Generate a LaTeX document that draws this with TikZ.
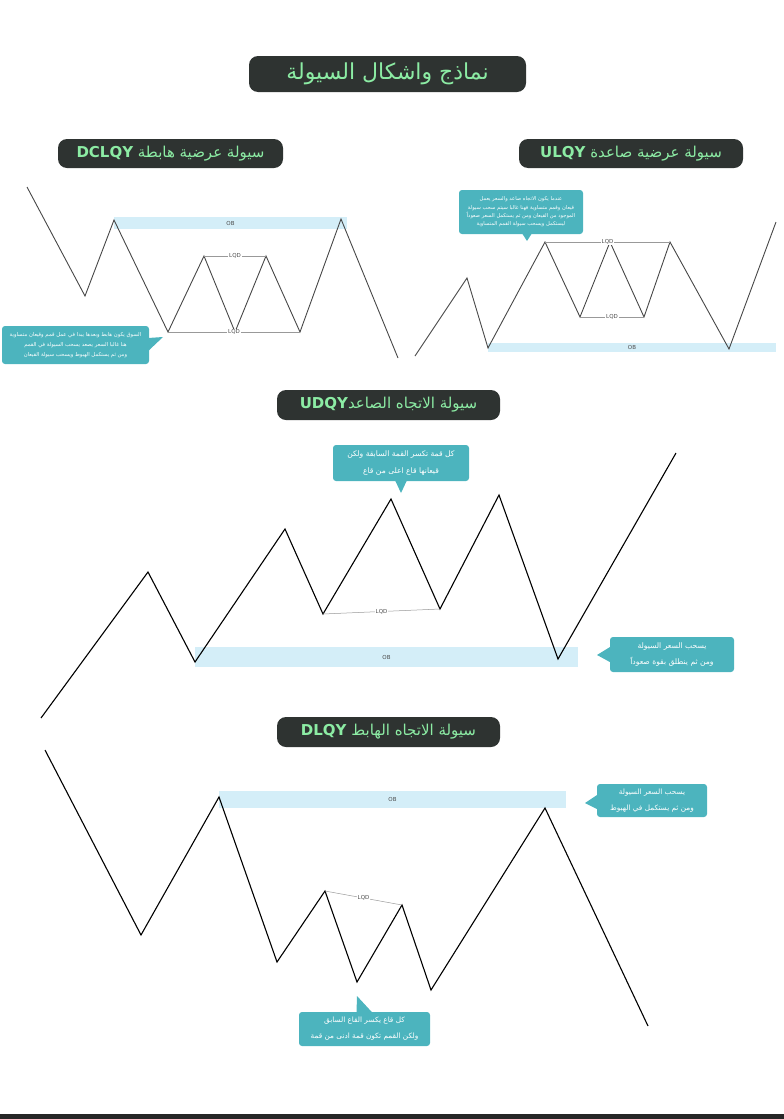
\documentclass[tikz,border=0pt]{standalone}
\usepackage{fontspec}
\setmainfont{DejaVu Sans}
\newfontfamily\arabicfont[Script=Arabic]{DejaVu Sans}
\TeXXeTstate=1
\usepackage{xcolor}
\usepackage{tikz}
\usetikzlibrary{calc}
\definecolor{panelgelap}{RGB}{46, 51, 49}
\definecolor{hijaumint}{RGB}{140, 236, 164}
\definecolor{catatan}{RGB}{76, 180, 190}
\definecolor{pitaob}{RGB}{212, 238, 248}
\newcommand{\artext}[1]{{\arabicfont\beginR #1\endR}}

\begin{document}
\begin{tikzpicture}[
    x=1pt, y=-1pt,
    judul/.style={fill=panelgelap, rounded corners=9pt, text=hijaumint,
                  font=\fontsize{22}{26}\selectfont, inner sep=0pt},
    subjudul/.style={fill=panelgelap, rounded corners=9pt, text=hijaumint,
                  font=\fontsize{15}{18}\selectfont, inner sep=0pt,
                  minimum height=29},
    catat/.style={fill=catatan, rounded corners=3pt, text=white, align=center,
                  inner sep=0pt},
    pita/.style={fill=pitaob, inner sep=0pt, font=\fontsize{5.5}{6}\selectfont,
                 text=black!70},
    harga/.style={black!72, line width=0.9pt},
    hargatebal/.style={black, line width=1.1pt},
    lqd/.style={gray!80, line width=0.5pt},
    lqdteks/.style={fill=white, inner sep=1pt, font=\fontsize{5.5}{6}\selectfont,
                    text=black!70}
  ]
    \useasboundingbox (0,0) rectangle (784,1119);
    \fill[black!85] (0,1114) rectangle (784,1119);

    % judul utama dan sub judul
    \node[judul, minimum width=277, minimum height=36] (utama) at (387.5,74)
      {\artext{نماذج واشكال السيولة}};
    \node[subjudul, minimum width=225] (jdcl) at (170.5,153.5)
      {{\bfseries DCLQY} \artext{سيولة عرضية هابطة}};
    \node[subjudul, minimum width=224] (julq) at (631,153.5)
      {{\bfseries ULQY} \artext{سيولة عرضية صاعدة}};
    \node[subjudul, minimum width=223, minimum height=30] (judq) at (388.5,405)
      {{\bfseries UDQY}\artext{سيولة الاتجاه الصاعد}};
    \node[subjudul, minimum width=223, minimum height=30] (jdlq) at (388.5,732)
      {{\bfseries DLQY} \artext{سيولة الاتجاه الهابط}};

    % pita OB
    \node[pita, minimum width=233, minimum height=12] (ob1) at (230.5,223) {OB};
    \node[pita, minimum width=288, minimum height=9] (ob2) at (632,347.5) {OB};
    \node[pita, minimum width=383, minimum height=20] (ob3) at (386.5,657) {OB};
    \node[pita, minimum width=347, minimum height=17] (ob4) at (392.5,799.5) {OB};

    % grafik DCLQY
    \draw[harga] (27,187) -- (85,296) -- (114,220) -- (168,332) coordinate (d4)
      -- (204,256) coordinate (d5) -- (235,332) -- (266,256) coordinate (d7)
      -- (300,332) coordinate (d8) -- (341,219) -- (398,358);
    \draw[lqd] (d5) -- node[lqdteks] {LQD} (d7);
    \draw[lqd] (d4) -- node[lqdteks] {LQD} (d8);

    % grafik ULQY
    \draw[harga] (415,356) -- (467,278) -- (488,348) -- (545,242) coordinate (u4)
      -- (580,317) coordinate (u5) -- (610,242) -- (644,317) coordinate (u7)
      -- (670,242) coordinate (u8) -- (729,349) -- (776,222);
    \draw[lqd] (u4) -- node[lqdteks] {LQD} (u8);
    \draw[lqd] (u5) -- node[lqdteks] {LQD} (u7);

    % grafik UDQY
    \draw[hargatebal] (41,718) -- (148,572) -- (195,662) -- (285,529)
      -- (323,614) coordinate (n5) -- (391,499) -- (440,609) coordinate (n7)
      -- (499,495) -- (558,659) -- (676,453);
    \draw[lqd] (n5) -- node[lqdteks] {LQD} (n7);

    % grafik DLQY
    \draw[hargatebal] (45,750) -- (141,935) -- (219,797) -- (277,962)
      -- (325,891) coordinate (t5) -- (357,982) -- (402,905) coordinate (t7)
      -- (431,990) -- (545,808) -- (648,1026);
    \draw[lqd] (t5) -- node[lqdteks] {LQD} (t7);

    % catatan
    \node[catat, minimum width=147, minimum height=38,
          font=\fontsize{5.3}{9.8}\selectfont] (c1) at (75.5,345)
      {\artext{السوق يكون هابط وبعدها يبدا في عمل قمم وقيعان متساوية}\\
       \artext{هنا غالبا السعر يصعد يسحب السيولة في القمم}\\
       \artext{ومن ثم يستكمل الهبوط ويسحب سيولة القيعان}};
    \coordinate (c1p) at (163,337);
    \fill[catatan] ($(c1.east)+(-1,-7)$) -- (c1p) -- ($(c1.east)+(-1,6)$) -- cycle;

    \node[catat, minimum width=124, minimum height=44,
          font=\fontsize{5.2}{8.3}\selectfont] (c2) at (521,212)
      {\artext{عندما يكون الاتجاه صاعد والسعر يعمل}\\
       \artext{قيعان وقمم متساوية فهنا غالبا سيتم سحب سيولة}\\
       \artext{الموجود من القيعان ومن ثم يستكمل السعر صعوداً}\\
       \artext{ليستكمل ويسحب سيولة القمم المتساوية}};
    \coordinate (c2p) at (527,241);
    \fill[catatan] ($(c2.south)+(1,-1)$) -- (c2p) -- ($(c2.south)+(11,-1)$) -- cycle;

    \node[catat, minimum width=136, minimum height=36,
          font=\fontsize{7.6}{16.5}\selectfont] (c3) at (401,463)
      {\artext{كل قمة تكسر القمة السابقة ولكن}\\
       \artext{قيعانها قاع اعلى من قاع}};
    \coordinate (c3p) at (401,493);
    \fill[catatan] ($(c3.south)+(-6,-1)$) -- (c3p) -- ($(c3.south)+(6,-1)$) -- cycle;

    \node[catat, minimum width=124, minimum height=35,
          font=\fontsize{7.6}{16.5}\selectfont] (c4) at (672,654.5)
      {\artext{يسحب السعر السيولة}\\
       \artext{ومن ثم ينطلق بقوة صعوداً}};
    \coordinate (c4p) at (597,655);
    \fill[catatan] ($(c4.west)+(1,-8)$) -- (c4p) -- ($(c4.west)+(1,8)$) -- cycle;

    \node[catat, minimum width=110, minimum height=33,
          font=\fontsize{7.3}{16}\selectfont] (c5) at (652,800.5)
      {\artext{يسحب السعر السيولة}\\
       \artext{ومن ثم يستكمل في الهبوط}};
    \coordinate (c5p) at (585,803);
    \fill[catatan] ($(c5.west)+(1,-6)$) -- (c5p) -- ($(c5.west)+(1,9)$) -- cycle;

    \node[catat, minimum width=131, minimum height=34,
          font=\fontsize{7.3}{16}\selectfont] (c6) at (364.5,1029)
      {\artext{كل قاع يكسر القاع السابق}\\
       \artext{ولكن القمم تكون قمة ادنى من قمة}};
    \coordinate (c6p) at (357,996);
    \fill[catatan] ($(c6.north)+(-8,1)$) -- (c6p) -- ($(c6.north)+(8,1)$) -- cycle;
  \end{tikzpicture}
\end{document}
